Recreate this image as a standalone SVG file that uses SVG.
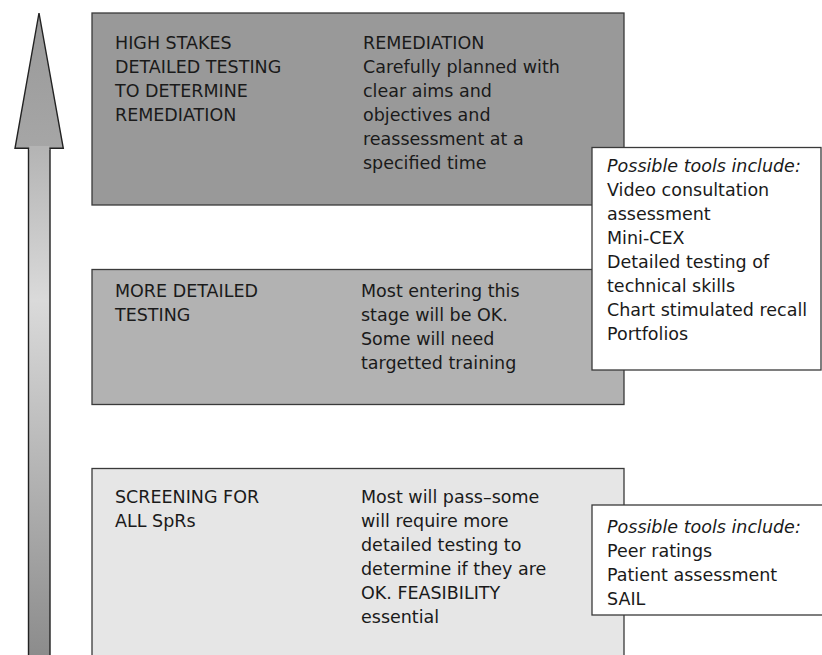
<svg xmlns="http://www.w3.org/2000/svg" width="822" height="655" viewBox="0 0 822 655">
<style>
text{font-family:"DejaVu Sans","Liberation Sans",sans-serif;font-size:17.5px;fill:#1a1a1a}
.it{font-style:italic}
.box{stroke:#3a3a3a;stroke-width:1.3}
.tool{fill:#ffffff;stroke:#3a3a3a;stroke-width:1.3}
</style>
<defs>
<linearGradient id="shaft" gradientUnits="userSpaceOnUse" x1="0" y1="148" x2="0" y2="655">
<stop offset="0" stop-color="#b4b4b4"/>
<stop offset="0.3" stop-color="#dadada"/>
<stop offset="1" stop-color="#8c8c8c"/>
</linearGradient>
<linearGradient id="head" gradientUnits="userSpaceOnUse" x1="0" y1="13" x2="0" y2="148">
<stop offset="0" stop-color="#999999"/>
<stop offset="1" stop-color="#a6a6a6"/>
</linearGradient>
</defs>
<rect width="822" height="655" fill="#ffffff"/>
<g id="arrow">
<path d="M28.5,148.3 L50,148.3 L50,660 L28.5,660 Z" fill="url(#shaft)" stroke="#222" stroke-width="1.4"/>
<path d="M39,13 L63.3,148.3 L15,148.3 Z" fill="url(#head)" stroke="#222" stroke-width="1.4" stroke-linejoin="miter"/>
<rect x="29.2" y="146" width="20.1" height="4" fill="#b4b4b4"/>
</g>
<g id="high-stakes">
<rect class="box" x="92" y="13" width="532" height="192" fill="#999999"/>
<text x="115" y="48.5">HIGH STAKES</text>
<text x="115" y="72.5">DETAILED TESTING</text>
<text x="115" y="96.5">TO DETERMINE</text>
<text x="115" y="120.5">REMEDIATION</text>
<text x="363" y="48.5">REMEDIATION</text>
<text x="363" y="72.5">Carefully planned with</text>
<text x="363" y="96.5">clear aims and</text>
<text x="363" y="120.5">objectives and</text>
<text x="363" y="144.5">reassessment at a</text>
<text x="363" y="168.5">specified time</text>
</g>
<g id="more-detailed">
<rect class="box" x="92" y="269.5" width="532" height="135" fill="#b2b2b2"/>
<text x="115" y="297">MORE DETAILED</text>
<text x="115" y="321">TESTING</text>
<text x="361" y="297">Most entering this</text>
<text x="361" y="321">stage will be OK.</text>
<text x="361" y="345">Some will need</text>
<text x="361" y="369">targetted training</text>
</g>
<g id="screening">
<rect class="box" x="92" y="468.5" width="532" height="200" fill="#e6e6e6"/>
<text x="115" y="503">SCREENING FOR</text>
<text x="115" y="527">ALL SpRs</text>
<text x="361" y="503">Most will pass–some</text>
<text x="361" y="527">will require more</text>
<text x="361" y="551">detailed testing to</text>
<text x="361" y="575">determine if they are</text>
<text x="361" y="599">OK. FEASIBILITY</text>
<text x="361" y="623">essential</text>
</g>
<g id="tools-upper">
<rect class="tool" x="592" y="147.5" width="229" height="222.5"/>
<text class="it" x="607" y="172">Possible tools include:</text>
<text x="607" y="196">Video consultation</text>
<text x="607" y="220">assessment</text>
<text x="607" y="244">Mini-CEX</text>
<text x="607" y="268">Detailed testing of</text>
<text x="607" y="292">technical skills</text>
<text x="607" y="316">Chart stimulated recall</text>
<text x="607" y="340">Portfolios</text>
</g>
<g id="tools-lower">
<rect class="tool" x="592" y="505" width="235" height="110"/>
<text class="it" x="607" y="533">Possible tools include:</text>
<text x="607" y="557">Peer ratings</text>
<text x="607" y="581">Patient assessment</text>
<text x="607" y="605">SAIL</text>
</g>
<g id="connectors"></g>
</svg>
